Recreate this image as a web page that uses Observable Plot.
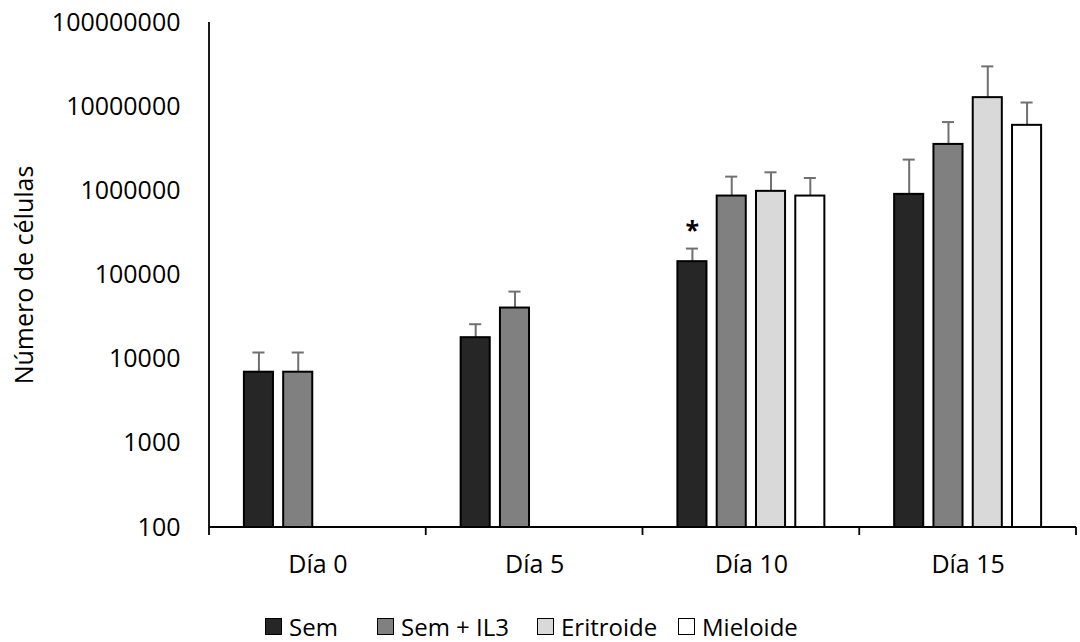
<!DOCTYPE html>
<html><head><meta charset="utf-8">
<script src="https://cdn.jsdelivr.net/npm/d3@7"></script>
<script src="https://cdn.jsdelivr.net/npm/@observablehq/plot@0.6"></script>
<style>
body{margin:0;background:#fff;font-family:"Open Sans",sans-serif;}
#wrap{position:relative;width:1080px;height:642px;overflow:hidden;background:#fff;}
.item{position:absolute;top:611px;display:flex;align-items:center;height:30px;font-size:24px;color:#000;white-space:nowrap;}
.sw{width:17px;height:17px;box-sizing:border-box;border:1.5px solid #000;margin-right:7px;}
</style></head><body><div id="wrap"></div>
<script>
const days = ["Día 0", "Día 5", "Día 10", "Día 15"];
const series = ["Sem", "Sem + IL3", "Eritroide", "Mieloide"];
const colors = ["#262626", "#808080", "#d9d9d9", "#ffffff"];
const semValues  = [7000, 18000, 144000, 908000];
const semErr     = [12000, 26000, 206000, 2350000];
const il3Values  = [7000, 40500, 867000, 3560000];
const il3Err     = [12000, 63500, 1475000, 6560000];
const eritValues = [null, null, 986000, 12800000];
const eritErr    = [null, null, 1660000, 30100000];
const mielValues = [null, null, 867000, 6000000];
const mielErr    = [null, null, 1420000, 11200000];
const yTicks = [100, 1000, 10000, 100000, 1000000, 10000000, 100000000];
const significance = [{day: "Día 10", series: "Sem", label: "*"}];

const valueSets = [[semValues, semErr], [il3Values, il3Err], [eritValues, eritErr], [mielValues, mielErr]];
const rows = [];
series.forEach((s, i) => {
  const [vals, errs] = valueSets[i];
  days.forEach((d, j) => {
    if (vals[j] != null) rows.push({day: d, series: s, value: vals[j], err: errs[j]});
  });
});
const sigRows = significance.map(a => {
  const r = rows.find(r => r.day === a.day && r.series === a.series);
  return {...a, err: r.err};
});

const chart = Plot.plot({
  width: 1080, height: 595,
  marginTop: 22, marginBottom: 68, marginLeft: 209, marginRight: 4,
  style: {fontFamily: "'Open Sans', sans-serif", fontSize: "25px", color: "#000", background: "#fff"},
  fx: {domain: days, paddingInner: 0, paddingOuter: 0, round: false, label: null, axis: "bottom", tickSize: 0, tickPadding: 28},
  x: {domain: series, paddingInner: 0.26, paddingOuter: 0.888, round: false, axis: null},
  y: {type: "log", domain: [yTicks[0], yTicks[yTicks.length - 1]], ticks: yTicks, tickFormat: d3.format("d"),
      tickSize: 0, tickPadding: 29, label: "Número de células", labelAnchor: "center", labelOffset: 194, labelArrow: "none"},
  color: {domain: series, range: colors},
  marks: [
    Plot.ruleX(rows, {fx: "day", x: "series", y1: "value", y2: "err", stroke: "#707070", strokeWidth: 2}),
    Plot.tickY(rows, {fx: "day", x: "series", y: "err", stroke: "#707070", strokeWidth: 2, insetLeft: 8.5, insetRight: 8.5}),
    Plot.barY(rows, {fx: "day", x: "series", y1: yTicks[0], y2: "value", fill: "series", stroke: "#000", strokeWidth: 2}),
    Plot.text(sigRows, {fx: "day", x: "series", y: "err", text: "label", dy: -18, fontSize: 25, fontWeight: "bold"})
  ]
});

// axis lines and group-boundary ticks from the scales
const fx = chart.scale("fx"), ys = chart.scale("y");
const svg = d3.select(chart);
const x0 = fx.range[0], x1 = fx.range[1];
const yb = ys.apply(yTicks[0]), yt = ys.apply(yTicks[yTicks.length - 1]);
const g = svg.append("g").attr("stroke", "#000").attr("stroke-width", 1.8).attr("fill", "none");
g.append("line").attr("x1", x0).attr("x2", x1).attr("y1", yb).attr("y2", yb);
g.append("line").attr("x1", x0).attr("x2", x0).attr("y1", yb).attr("y2", yt);
fx.domain.map(d => fx.apply(d)).concat([x1]).forEach(x => {
  g.append("line").attr("x1", x).attr("x2", x).attr("y1", yb).attr("y2", yb + 8);
});

const wrap = document.getElementById("wrap");
wrap.appendChild(chart);
const legendLeft = [265, 377, 537, 678];
series.forEach((s, i) => {
  const it = document.createElement("div");
  it.className = "item";
  it.style.left = legendLeft[i] + "px";
  const sw = document.createElement("span");
  sw.className = "sw";
  sw.style.background = colors[i];
  const tx = document.createElement("span");
  tx.textContent = s;
  it.appendChild(sw); it.appendChild(tx);
  wrap.appendChild(it);
});
</script></body></html>
